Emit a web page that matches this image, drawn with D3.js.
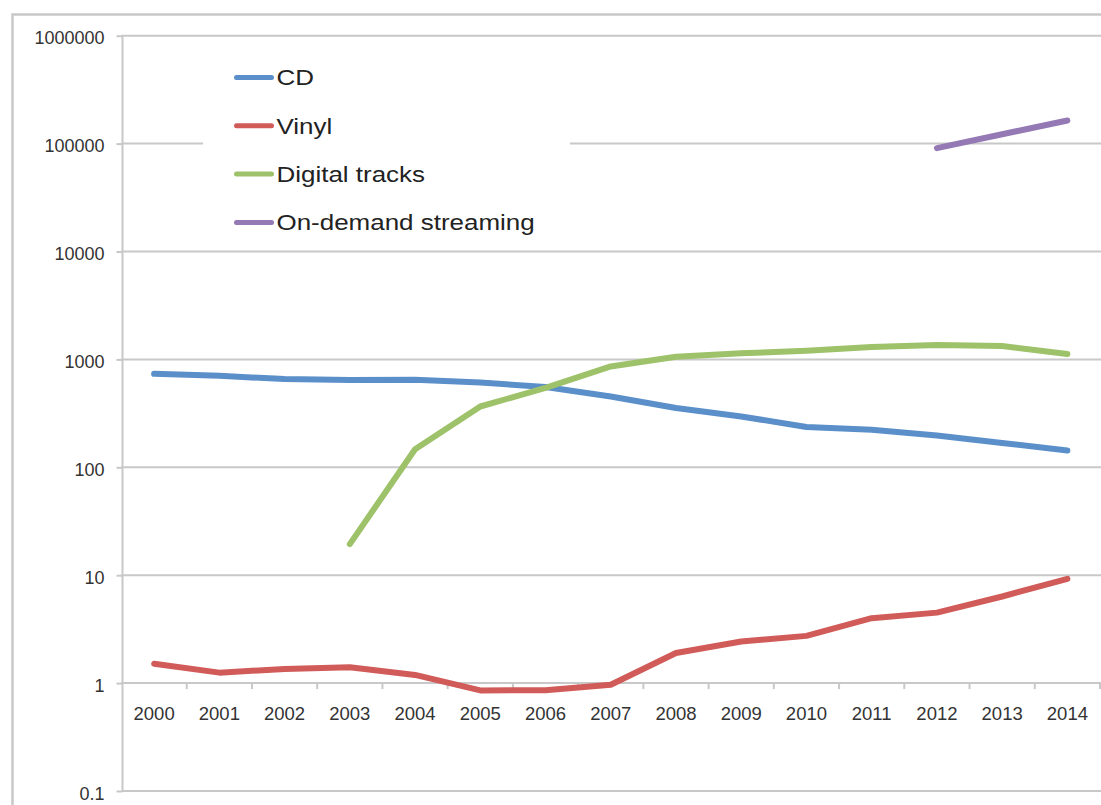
<!DOCTYPE html>
<html>
<head>
<meta charset="utf-8">
<script src="https://cdnjs.cloudflare.com/ajax/libs/d3/7.8.5/d3.min.js"></script>
<style>
  body { margin: 0; background: #fff; }
  .chart text { font-family: "Liberation Sans", Arial, Helvetica, sans-serif; fill: #333; }
  .axis path, .axis line { stroke: #c8c8c8; stroke-width: 2px; }
  .grid line { stroke: #c8c8c8; stroke-width: 2px; }
  .series { fill: none; stroke-width: 6px; stroke-linejoin: round; stroke-linecap: round; }
</style>
</head>
<body>
<svg class="chart" width="1101" height="805"></svg>
<script>
// data (millions of units, log scale)
var years = ["2000","2001","2002","2003","2004","2005","2006","2007","2008","2009","2010","2011","2012","2013","2014"];
var cd        = [735, 705, 657, 645, 647, 611, 554, 453, 354, 296, 236, 223, 197, 168, 143];
var vinyl     = [1.51, 1.25, 1.35, 1.40, 1.19, 0.855, 0.86, 0.965, 1.9, 2.43, 2.74, 4.0, 4.5, 6.35, 9.26];
var digital   = [null, null, null, 19.4, 147, 366, 545, 860, 1060, 1140, 1200, 1300, 1360, 1330, 1120];
var streaming = [null, null, null, null, null, null, null, null, null, null, null, null, 90800, 122000, 163700];
var yTicks = [0.1, 1, 10, 100, 1000, 10000, 100000, 1000000];

var seriesNames  = ["CD", "Vinyl", "Digital tracks", "On-demand streaming"];
var seriesColors = ["#5b8fc9", "#d05b59", "#9dc26a", "#9479b4"];

(function() {
  var svg = d3.select(".chart");

  var series = [cd, vinyl, digital, streaming].map(function(values, i) {
    return {
      name: seriesNames[i],
      color: seriesColors[i],
      values: values.map(function(v, j) { return {year: years[j], value: v}; })
    };
  });

  var xScale = d3.scaleBand()
    .domain(years)
    .range([121.5, 1100]);

  var yScale = d3.scaleLog()
    .domain([0.1, 1000000])
    .range([791, 35.7]);

  // outer frame
  svg.append("rect")
    .attr("x", 12.5)
    .attr("y", 14.5)
    .attr("width", 1120)
    .attr("height", 820)
    .attr("fill", "none")
    .attr("stroke", "#c8c8c8")
    .attr("stroke-width", 2.5);

  // horizontal gridlines
  svg.append("g")
    .attr("class", "grid")
    .selectAll("line")
    .data(yTicks)
    .enter().append("line")
    .attr("x1", xScale.range()[0])
    .attr("x2", 1101)
    .attr("y1", function(d) { return yScale(d); })
    .attr("y2", function(d) { return yScale(d); });

  // y axis
  var yAxis = d3.axisLeft(yScale)
    .tickValues(yTicks)
    .tickFormat(function(d) { return d < 1 ? String(d) : d3.format("d")(d); })
    .tickSize(6)
    .tickPadding(12);

  var gy = svg.append("g")
    .attr("class", "axis")
    .attr("transform", "translate(" + 122.5 + ",0)")
    .call(yAxis);
  gy.select(".domain").attr("d", "M0," + yScale(0.1) + "V" + yScale(1000000));
  gy.selectAll("text")
    .style("font-size", "18px")
    .attr("dy", "0.45em");

  // x axis sits on the value 1
  var xAxis = d3.axisBottom(xScale)
    .tickSize(0)
    .tickPadding(24);

  var gx = svg.append("g")
    .attr("class", "axis")
    .attr("transform", "translate(0," + yScale(1) + ")")
    .call(xAxis);
  gx.select(".domain").attr("d", "M" + xScale.range()[0] + ",0H1101");
  gx.selectAll("text")
    .style("font-size", "18.5px")
    .attr("dy", "0.71em");

  // tick marks between the categories
  gx.selectAll(".sep")
    .data(years)
    .enter().append("line")
    .attr("class", "sep")
    .attr("x1", function(d) { return xScale(d) + xScale.bandwidth(); })
    .attr("x2", function(d) { return xScale(d) + xScale.bandwidth(); })
    .attr("y1", 0)
    .attr("y2", 6);

  // legend box hides the gridline behind it
  var legend = svg.append("g").attr("class", "legend");
  legend.append("rect")
    .attr("x", 203)
    .attr("y", 55)
    .attr("width", 367)
    .attr("height", 190)
    .attr("fill", "#fff");

  // series lines
  var line = d3.line()
    .defined(function(d) { return d.value != null; })
    .x(function(d) { return xScale(d.year) + xScale.bandwidth() / 2; })
    .y(function(d) { return yScale(d.value); });

  svg.append("g")
    .selectAll("path")
    .data(series)
    .enter().append("path")
    .attr("class", "series")
    .attr("stroke", function(d) { return d.color; })
    .attr("d", function(d) { return line(d.values); });

  var item = legend.selectAll(".item")
    .data(series)
    .enter().append("g")
    .attr("class", "item")
    .attr("transform", function(d, i) { return "translate(235," + (77.5 + i * 48.3) + ")"; });

  item.append("line")
    .attr("x1", 1.5)
    .attr("x2", 36.5)
    .attr("stroke", function(d) { return d.color; })
    .attr("stroke-width", 5)
    .attr("stroke-linecap", "round");

  item.append("text")
    .attr("transform", "translate(41.5,0) scale(1.18,1)")
    .attr("dy", "0.36em")
    .style("font-size", "22px")
    .style("fill", "#222")
    .text(function(d) { return d.name; });
})();
</script>
</body>
</html>
